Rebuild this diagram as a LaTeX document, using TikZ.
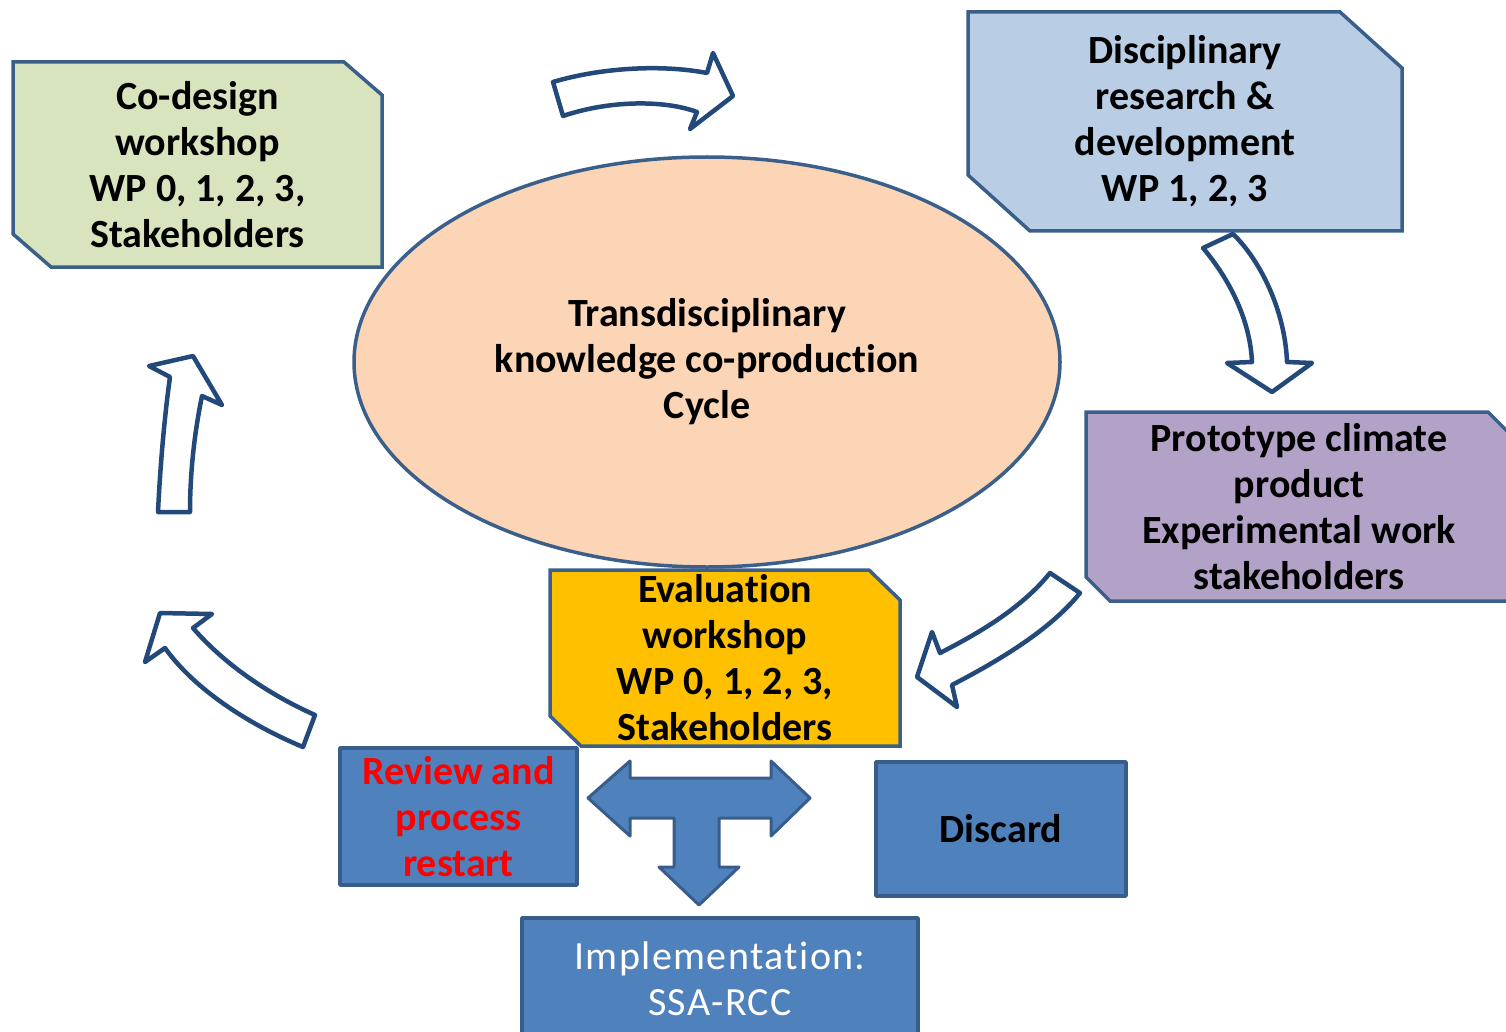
\documentclass[tikz,border=0pt]{standalone}
\usepackage{fontspec}
\setmainfont{Carlito}[Ligatures=NoCommon]
\usetikzlibrary{shapes.geometric,backgrounds}

\definecolor{boxline}{HTML}{3A5F8B}
\definecolor{arrowline}{HTML}{22497A}
\definecolor{greenfill}{HTML}{D7E4BD}
\definecolor{bluefill}{HTML}{B9CDE5}
\definecolor{purplefill}{HTML}{B3A2C7}
\definecolor{orangefill}{HTML}{FFC000}
\definecolor{peachfill}{HTML}{FBD5B5}
\definecolor{stepfill}{HTML}{4F81BD}
\definecolor{stepline}{HTML}{385D8A}
\definecolor{reviewred}{HTML}{FF0000}

\newcommand{\diagfont}{\fontsize{40}{46}\selectfont}
% outline with cut top-right and bottom-left corners, behind node #1
\newcommand{\snipframe}[4]{%
  \begin{scope}[on background layer]
    \draw[snipline,fill=#4] (#1.north west) -- ([xshift=-#2]#1.north east)
      -- ([yshift=-#3]#1.north east) -- (#1.south east)
      -- ([xshift=#2]#1.south west) -- ([yshift=#3]#1.south west) -- cycle;
  \end{scope}}

\begin{document}
\begin{tikzpicture}[x=1pt,y=-1pt,line join=round]

  \tikzstyle{every node}=[align=center,inner sep=0pt,outer sep=0pt]
  \tikzstyle{snipbox}=[rectangle,font=\diagfont\bfseries]
  \tikzstyle{snipline}=[draw=boxline,line width=3.5pt]
  \tikzstyle{flatbox}=[rectangle,draw=stepline,fill=stepfill,line width=3.5pt,
                       font=\diagfont\bfseries]
  \tikzstyle{hollow}=[draw=arrowline,fill=white,line width=4.5pt]
  \tikzstyle{flatarrow}=[draw=stepline,fill=stepfill,line width=3pt]

  \clip (0,0) rectangle (1506,1032);

  \node[ellipse,draw=boxline,fill=peachfill,line width=3.5pt,
        minimum width=706pt,minimum height=410pt,font=\diagfont\bfseries]
        (TKC) at (707,362) {Transdisciplinary\\knowledge co-production\\Cycle};

  \node[snipbox,minimum width=369pt,minimum height=205pt]
        (CDW) at (197.5,164.5) {Co-design\\workshop\\WP 0, 1, 2, 3,\\Stakeholders};
  \node[snipbox,minimum width=434pt,minimum height=219pt]
        (DRD) at (1185,121.5) {Disciplinary\\research \&\\development\\WP 1, 2, 3};
  \node[snipbox,minimum width=426pt,minimum height=189pt]
        (PCP) at (1299,506.5) {Prototype climate\\product\\Experimental work\\stakeholders};
  \node[snipbox,minimum width=350pt,minimum height=176pt]
        (EVW) at (725,658) {Evaluation\\workshop\\WP 0, 1, 2, 3,\\Stakeholders};

  \snipframe{CDW}{38pt}{33pt}{greenfill}
  \snipframe{DRD}{62pt}{56pt}{bluefill}
  \snipframe{PCP}{24pt}{24pt}{purplefill}
  \snipframe{EVW}{31pt}{30pt}{orangefill}

  \node[flatbox,minimum width=237pt,minimum height=137pt,text=reviewred]
        (RPR) at (458.5,816.5) {Review and\\process\\restart};
  \node[flatbox,minimum width=250pt,minimum height=134pt]
        (DSC) at (1001,829) {Discard};
  \node[flatbox,minimum width=396pt,minimum height=122pt,text=white,
        font=\diagfont\addfontfeatures{LetterSpace=3.5}]
        (IMP) at (720,979) {Implementation:\\SSA-RCC};

  \draw[flatarrow] (588,798) -- (630,761) -- (630,778) -- (771,778) -- (771,761)
    -- (810,798) -- (771,836) -- (771,818) -- (719,818) -- (719,867) -- (739,867)
    -- (699,905) -- (659,867) -- (674,867) -- (674,818) -- (630,818) -- (630,836)
    -- cycle;

  \draw[hollow] (553,82) .. controls (600,68) and (660,64) .. (707,73) -- (713,53)
    -- (733,96) -- (690,129) -- (697,112)
    .. controls (665,100) and (610,100) .. (563,116) -- cycle;
  \draw[hollow] (1203,248) -- (1233,234)
    .. controls (1260,260) and (1285,310) .. (1287,362) -- (1312,363)
    -- (1272,392) -- (1227,363) -- (1252,362)
    .. controls (1250,320) and (1230,280) .. (1203,248) -- cycle;
  \draw[hollow] (1050,573) -- (1080,593)
    .. controls (1050,630) and (1000,660) .. (952,685) -- (957,707)
    -- (917,677) -- (932,632) -- (940,653)
    .. controls (975,635) and (1020,610) .. (1050,573) -- cycle;
  \draw[hollow] (315,715) .. controls (270,695) and (225,665) .. (193,628)
    -- (212,614) -- (160,613) -- (145,662) -- (165,648)
    .. controls (195,690) and (250,725) .. (303,747) -- cycle;
  \draw[hollow] (158,512) -- (190,512)
    .. controls (190,470) and (195,430) .. (202,396) -- (222,405)
    -- (193,356) -- (149,366) -- (170,377)
    .. controls (164,420) and (160,470) .. (158,512) -- cycle;

\end{tikzpicture}
\end{document}
